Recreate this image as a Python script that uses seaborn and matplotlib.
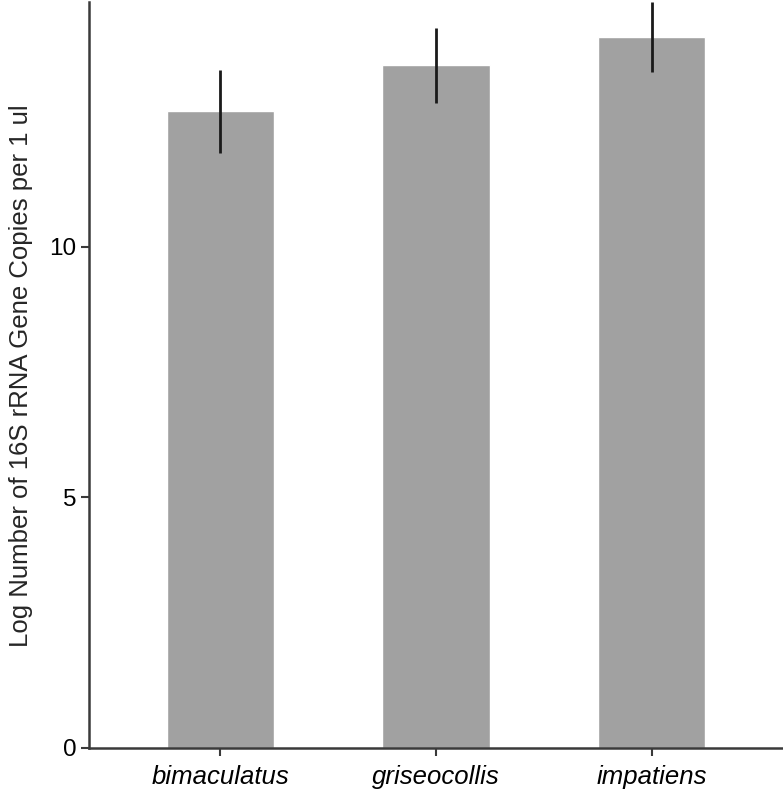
import numpy as np
import pandas as pd
import matplotlib
matplotlib.use('Agg')
import matplotlib.pyplot as plt
import seaborn as sns

# values
species = ['bimaculatus', 'griseocollis', 'impatiens']
log_copies = [12.71, 13.63, 14.19]
err = [0.83, 0.75, 0.70]

df = pd.DataFrame({'species': species, 'log_copies': log_copies})

sns.set_style('ticks')
plt.rcParams['font.family'] = ['Liberation Sans', 'DejaVu Sans']

fig = plt.figure(figsize=(7.83, 7.91), dpi=100)
ax = fig.add_axes([0.1137, 0.0544, 0.8863, 0.9425])

sns.barplot(data=df, x='species', y='log_copies', color='#a1a1a1',
            saturation=1, width=0.5, errorbar=None, ax=ax)
ax.errorbar(np.arange(len(species)), log_copies, yerr=err, fmt='none',
            ecolor='#1a1a1a', elinewidth=2, capsize=0)

ax.set_xlim(-0.61, 2.61)
ax.set_ylim(0, 14.88)
ax.set_yticks([0, 5, 10])
ax.set_xlabel('')
ax.set_ylabel('Log Number of 16S rRNA Gene Copies per 1 ul', fontsize=18.5, labelpad=12)

for s in ['top', 'right']:
    ax.spines[s].set_visible(False)
for s in ['left', 'bottom']:
    ax.spines[s].set_color('#3a3a3a')
    ax.spines[s].set_linewidth(1.8)

ax.tick_params(axis='both', colors='#3a3a3a', width=1.5, length=6)
ax.tick_params(axis='y', labelsize=17.5, labelcolor='black', pad=3)
ax.tick_params(axis='x', labelsize=18.5, labelcolor='black', pad=6)
for lab in ax.get_xticklabels():
    lab.set_fontstyle('italic')

fig.savefig('out.png', dpi=100)
